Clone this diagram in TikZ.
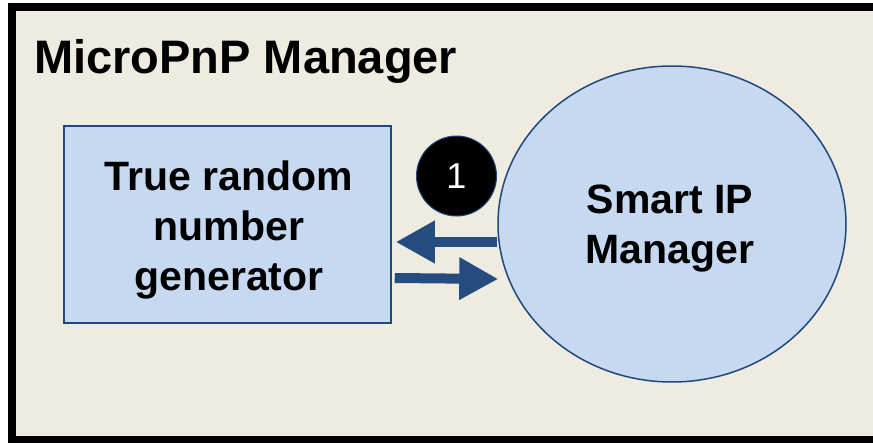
\documentclass[tikz,border=0pt]{standalone}
\usepackage{fontspec}
\setmainfont{Liberation Sans}
\usetikzlibrary{shapes.geometric,arrows.meta}
\definecolor{panelbg}{HTML}{EEEBE0}
\definecolor{boxblue}{HTML}{C6D9F1}
\definecolor{edgeblue}{HTML}{1F497D}
\definecolor{arrowblue}{HTML}{244C7E}
\tikzset{
  blockbox/.style={draw=edgeblue, line width=1.5pt, fill=boxblue, inner sep=0pt},
  blockell/.style={ellipse, draw=edgeblue, line width=1.5pt, fill=boxblue, inner sep=0pt},
  blocktext/.style={inner sep=0pt, align=center, font=\bfseries\fontsize{41}{50}\selectfont},
  stepnum/.style={circle, draw=edgeblue, line width=1pt, fill=black, text=white,
    inner sep=0pt, minimum size=80pt, font=\fontsize{36}{36}\selectfont},
  flow/.style={draw=arrowblue, line width=10pt,
    -{Triangle[length=39pt, width=40pt]}}
}
\begin{document}
\begin{tikzpicture}[x=1pt, y=-1pt]
  \useasboundingbox (0,0) rectangle (873,442);
  % outer frame of the manager
  \draw[line width=8pt, fill=panelbg] (11.5,7) rectangle (890,440);
  \node[anchor=base west, inner sep=0pt, font=\bfseries\fontsize{47}{47}\selectfont]
    (title) at (34,73) {MicroPnP Manager};
  % components
  \node[blockbox, minimum width=327pt, minimum height=197pt] (trng) at (227.5,224.5) {};
  \node[blocktext, anchor=base] (trnglbl) at (229,290) {True random\\number\\generator};
  \node[blockell, minimum width=348pt, minimum height=316pt] (smart) at (672,224) {};
  \node[blocktext, anchor=base] (smartlbl) at (670,263) {Smart IP\\Manager};
  \node[stepnum] (one) at (456.5,176) {1};
  % request / response arrows
  \coordinate (reqtip) at ([xshift=4pt]trng.east |- 0,242);
  \coordinate (respend) at ([xshift=1pt]smart.west |- 0,279);
  \draw[flow] (smart.west |- 0,242) -- (reqtip);
  \draw[flow] ([xshift=3pt]trng.east |- 0,278) -- (respend);
\end{tikzpicture}
\end{document}
